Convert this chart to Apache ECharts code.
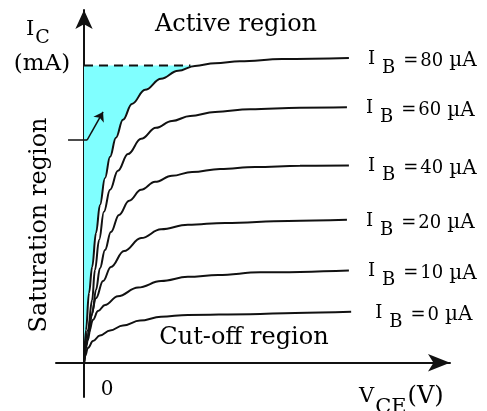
<!DOCTYPE html>
<html>
<head>
<meta charset="utf-8">
<script src="https://cdn.jsdelivr.net/npm/echarts@6/dist/echarts.min.js"></script>
<style>
  html, body { margin: 0; background: #fff; }
  #chart { width: 487px; height: 411px; }
</style>
</head>
<body>
<div id="chart"></div>
<script>
// 基极电流 (µA)
var ibValues = ['80', '60', '40', '20', '10', '0'];

// 输出特性曲线 [VCE, IC]
var ib80 = [[0, 0], [0.07, 0.86], [0.18, 1.84], [0.29, 2.52], [0.43, 3.42], [0.57, 4.15], [0.75, 4.86], [0.93, 5.42], [1.14, 5.92], [1.39, 6.39], [1.71, 6.81], [2.18, 7.18], [2.75, 7.47], [3.36, 7.68], [3.96, 7.81], [4.68, 7.88], [5.57, 7.93], [7.07, 7.99], [9.46, 8.02]];
var ib60 = [[0, 0], [0.14, 0.86], [0.29, 1.65], [0.39, 2.44], [0.54, 3.23], [0.71, 3.97], [0.93, 4.55], [1.21, 5.05], [1.57, 5.49], [2.04, 5.89], [2.57, 6.18], [3.14, 6.36], [3.79, 6.49], [4.68, 6.60], [5.93, 6.67], [7.71, 6.71], [9.39, 6.72]];
var ib40 = [[0, 0], [0.14, 0.60], [0.29, 1.29], [0.43, 1.92], [0.57, 2.49], [0.75, 2.97], [0.96, 3.44], [1.25, 3.89], [1.61, 4.26], [2.04, 4.55], [2.54, 4.76], [3.14, 4.92], [3.86, 5.02], [4.86, 5.10], [6.11, 5.15], [7.71, 5.18], [9.46, 5.19]];
var ib20 = [[0, 0], [0.11, 0.60], [0.25, 1.23], [0.43, 1.70], [0.68, 2.15], [0.96, 2.52], [1.43, 2.94], [2.04, 3.28], [2.75, 3.51], [3.71, 3.63], [5.04, 3.68], [7.29, 3.73], [9.39, 3.76]];
var ib10 = [[0, 0], [0.07, 0.39], [0.18, 0.81], [0.32, 1.13], [0.50, 1.36], [0.75, 1.52], [1.21, 1.75], [1.93, 1.98], [2.75, 2.15], [3.71, 2.26], [4.79, 2.31], [6.29, 2.38], [9.46, 2.43]];
var ib0 = [[0, 0], [0.04, 0.18], [0.14, 0.39], [0.32, 0.57], [0.57, 0.72], [0.93, 0.85], [1.39, 0.98], [2.00, 1.11], [2.75, 1.21], [3.71, 1.26], [5.93, 1.28], [7.54, 1.31], [9.54, 1.34]];

// 饱和电流虚线
var satLevel = 7.82;
var satEnd = 3.8;
// 指示箭头
var leader = [[-0.57, 5.86], [0.11, 5.86]];
var leaderTip = [0.68, 6.60];

var curves = [ib80, ib60, ib40, ib20, ib10, ib0];

(function () {
  var font = 'DejaVu Serif'
  var ink = '#111'

  // 饱和区多边形: y轴 + 80µA 曲线 + 虚线
  var satPoly = [[0, satLevel], [0, 0]]
  ib80.forEach(function (p) {
    if (p[1] < satLevel && p[0] > 0) satPoly.push(p)
  })
  satPoly.push([satEnd, satLevel])

  var myChart = echarts.init(document.getElementById('chart'))

  var series = [
    {
      type: 'custom',
      z: 1,
      silent: true,
      data: satPoly,
      renderItem: function (params, api) {
        if (params.dataIndex !== 0) return
        var pts = satPoly.map(function (p) { return api.coord(p) })
        return { type: 'polygon', shape: { points: pts }, style: { fill: '#80ffff' } }
      }
    },
    {
      type: 'line',
      z: 3,
      symbol: 'none',
      data: [[0, satLevel], [satEnd, satLevel]],
      lineStyle: { color: ink, width: 2, type: [9, 6] }
    },
    {
      type: 'line',
      z: 3,
      symbol: 'none',
      data: leader,
      lineStyle: { color: ink, width: 1.5 },
      markLine: {
        silent: true,
        symbol: ['none', 'arrow'],
        symbolSize: 9,
        label: { show: false },
        lineStyle: { color: ink, width: 1.5, type: 'solid' },
        data: [[{ coord: leader[1] }, { coord: leaderTip }]]
      }
    }
  ]

  curves.forEach(function (c, i) {
    series.push({
      name: ibValues[i],
      type: 'line',
      z: 4,
      symbol: 'none',
      smooth: 0.4,
      smoothMonotone: 'x',
      data: c,
      lineStyle: { color: ink, width: 2 },
      endLabel: {
        show: true,
        distance: i === 5 ? 24 : 19,
        offset: [0, 4],
        color: '#000',
        fontFamily: font,
        formatter: function (p) {
          return '{i|I}{b|B}{e|=}{n|' + p.seriesName + '}{u|µA}'
        },
        rich: {
          i: { fontSize: 18, fontFamily: font, padding: [0, 7, 6, 0] },
          b: { fontSize: 18, fontFamily: font, padding: [12, 8, 0, 0] },
          e: { fontSize: 18, fontFamily: font, padding: [0, 2, 2, 0] },
          n: { fontSize: 18, fontFamily: font, padding: [0, 6, 2, 0] },
          u: { fontSize: 20, fontFamily: font, padding: [0, 0, 2, 0] }
        }
      }
    })
  })

  var option = {
    animation: false,
    grid: { left: 56, right: 37, top: 10, bottom: 14 },
    xAxis: {
      type: 'value',
      min: -1,
      max: 13.07,
      axisLine: {
        onZero: true,
        symbol: ['none', 'arrow'],
        symbolSize: [13, 22],
        lineStyle: { color: ink, width: 2 }
      },
      axisTick: { show: false },
      axisLabel: { show: false },
      splitLine: { show: false }
    },
    yAxis: {
      type: 'value',
      min: -0.9,
      max: 9.28,
      axisLine: {
        onZero: true,
        symbol: ['none', 'arrow'],
        symbolSize: [13, 19],
        lineStyle: { color: ink, width: 2 }
      },
      axisTick: { show: false },
      axisLabel: { show: false },
      splitLine: { show: false }
    },
    graphic: [
      {
        type: 'text', left: 26, top: 19,
        style: {
          text: '{i|I}{c|C}',
          rich: {
            i: { fontSize: 21, fontFamily: font, fill: '#000', padding: [0, 1, 8, 0] },
            c: { fontSize: 19, fontFamily: font, fill: '#000', padding: [10, 0, 0, 0] }
          }
        }
      },
      { type: 'text', x: 42, y: 64, style: { text: '(mA)', fontSize: 23, fontFamily: font, fill: '#000', align: 'center', verticalAlign: 'middle' } },
      { type: 'text', x: 236, y: 25, style: { text: 'Active region', fontSize: 24, fontFamily: font, fill: '#000', align: 'center', verticalAlign: 'middle' } },
      { type: 'text', x: 40, y: 225, rotation: Math.PI / 2, style: { text: 'Saturation region', fontSize: 24, fontFamily: font, fill: '#000', align: 'center', verticalAlign: 'middle' } },
      { type: 'text', x: 244, y: 338, style: { text: 'Cut-off region', fontSize: 24, fontFamily: font, fill: '#000', align: 'center', verticalAlign: 'middle' } },
      { type: 'text', x: 107, y: 390, style: { text: '0', fontSize: 20, fontFamily: font, fill: '#000', align: 'center', verticalAlign: 'middle' } },
      {
        type: 'text', left: 359, top: 385,
        style: {
          text: '{v|V}{s|CE}{p|(V)}',
          rich: {
            v: { fontSize: 21, fontFamily: font, fill: '#000', padding: [0, 0, 8, 0] },
            s: { fontSize: 21, fontFamily: font, fill: '#000', padding: [14, 1, 0, 1] },
            p: { fontSize: 24, fontFamily: font, fill: '#000', padding: [0, 0, 8, 0] }
          }
        }
      }
    ],
    series: series
  }

  myChart.setOption(option)
  window.addEventListener('resize', function () {
    myChart.resize()
  })
})();
</script>
</body>
</html>
